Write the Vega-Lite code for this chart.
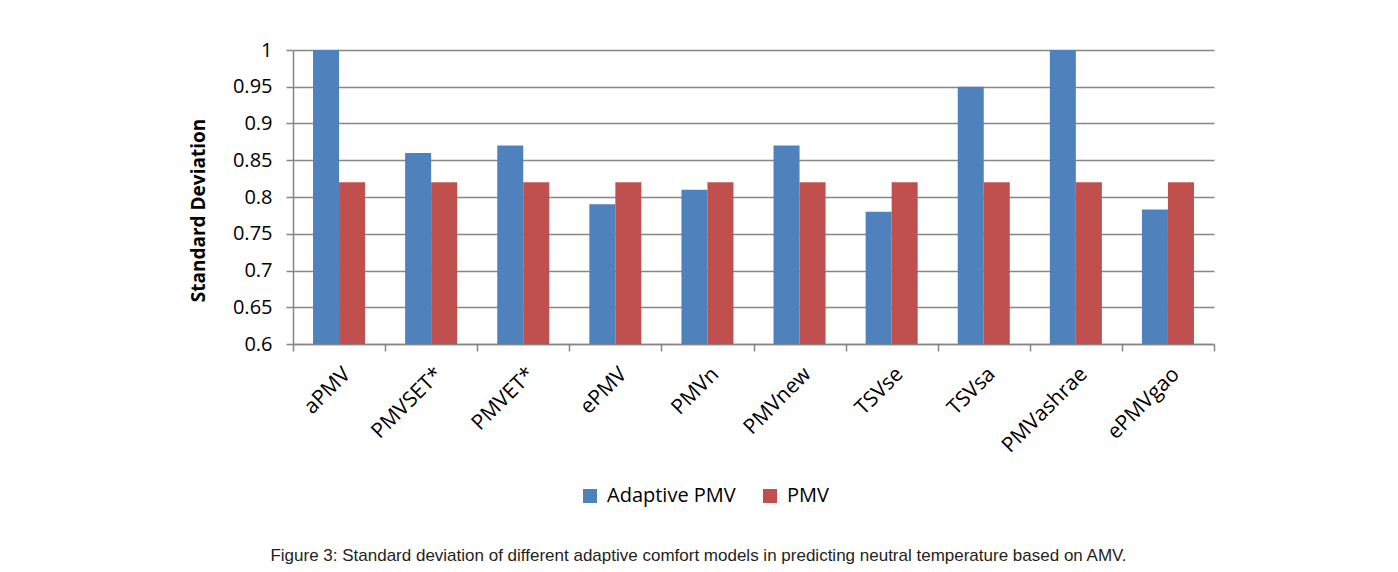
{
  "$schema": "https://vega.github.io/schema/vega-lite/v6.json",
  "autosize": "none",
  "width": 921,
  "height": 294,
  "padding": {"left": 293, "top": 50, "right": 184, "bottom": 228},
  "background": "white",
  "data": {
    "values": [
      {"model": "aPMV", "series": "Adaptive PMV", "sd": 1.0},
      {"model": "aPMV", "series": "PMV", "sd": 0.82},
      {"model": "PMVSET*", "series": "Adaptive PMV", "sd": 0.86},
      {"model": "PMVSET*", "series": "PMV", "sd": 0.82},
      {"model": "PMVET*", "series": "Adaptive PMV", "sd": 0.87},
      {"model": "PMVET*", "series": "PMV", "sd": 0.82},
      {"model": "ePMV", "series": "Adaptive PMV", "sd": 0.79},
      {"model": "ePMV", "series": "PMV", "sd": 0.82},
      {"model": "PMVn", "series": "Adaptive PMV", "sd": 0.81},
      {"model": "PMVn", "series": "PMV", "sd": 0.82},
      {"model": "PMVnew", "series": "Adaptive PMV", "sd": 0.87},
      {"model": "PMVnew", "series": "PMV", "sd": 0.82},
      {"model": "TSVse", "series": "Adaptive PMV", "sd": 0.78},
      {"model": "TSVse", "series": "PMV", "sd": 0.82},
      {"model": "TSVsa", "series": "Adaptive PMV", "sd": 0.95},
      {"model": "TSVsa", "series": "PMV", "sd": 0.82},
      {"model": "PMVashrae", "series": "Adaptive PMV", "sd": 1.0},
      {"model": "PMVashrae", "series": "PMV", "sd": 0.82},
      {"model": "ePMVgao", "series": "Adaptive PMV", "sd": 0.783},
      {"model": "ePMVgao", "series": "PMV", "sd": 0.82}
    ]
  },
  "title": {
    "text": "Figure 3: Standard deviation of different adaptive comfort models in predicting neutral temperature based on AMV.",
    "orient": "bottom",
    "anchor": "middle",
    "frame": "group",
    "font": "Liberation Sans",
    "fontSize": 17,
    "fontWeight": "normal",
    "color": "#231f20",
    "dx": -55,
    "offset": 42
  },
  "mark": {"type": "bar", "clip": true},
  "encoding": {
    "x": {
      "field": "model",
      "type": "nominal",
      "sort": null,
      "scale": {"paddingInner": 0, "paddingOuter": 0},
      "axis": {
        "title": null,
        "labelAngle": -45,
        "labelFont": "Open Sans",
        "labelFontSize": 21,
        "labelColor": "#000000",
        "labelPadding": 12,
        "domainColor": "#868686",
        "domainWidth": 1.5,
        "tickColor": "#868686",
        "tickWidth": 1.5,
        "tickSize": 7,
        "tickBand": "extent",
        "grid": false
      }
    },
    "xOffset": {
      "field": "series",
      "type": "nominal",
      "scale": {"paddingInner": 0, "paddingOuter": 0.77}
    },
    "y": {
      "field": "sd",
      "type": "quantitative",
      "scale": {"domain": [0.6, 1.0], "nice": false, "zero": false},
      "axis": {
        "title": "Standard Deviation",
        "titleFont": "Open Sans",
        "titleFontSize": 19,
        "titleFontWeight": "bold",
        "titleColor": "#000000",
        "titlePadding": 24,
        "titleY": 160,
        "values": [0.6, 0.65, 0.7, 0.75, 0.8, 0.85, 0.9, 0.95, 1.0],
        "format": "~g",
        "labelFont": "Open Sans",
        "labelFontSize": 20,
        "labelColor": "#000000",
        "labelPadding": 14,
        "domainColor": "#868686",
        "domainWidth": 1.5,
        "tickColor": "#868686",
        "tickWidth": 1.5,
        "tickSize": 7,
        "gridColor": "#868686",
        "gridWidth": 1.5
      }
    },
    "color": {
      "field": "series",
      "type": "nominal",
      "scale": {"domain": ["Adaptive PMV", "PMV"], "range": ["#4f81bd", "#c0504d"]},
      "legend": {
        "title": null,
        "orient": "none",
        "direction": "horizontal",
        "legendX": 287,
        "legendY": 436,
        "symbolType": "square",
        "symbolSize": 196,
        "symbolStrokeWidth": 0,
        "labelFont": "Open Sans",
        "labelFontSize": 20,
        "labelColor": "#000000",
        "labelOffset": 7,
        "columnPadding": 24,
        "padding": 0
      }
    }
  },
  "config": {
    "view": {"stroke": null}
  }
}
